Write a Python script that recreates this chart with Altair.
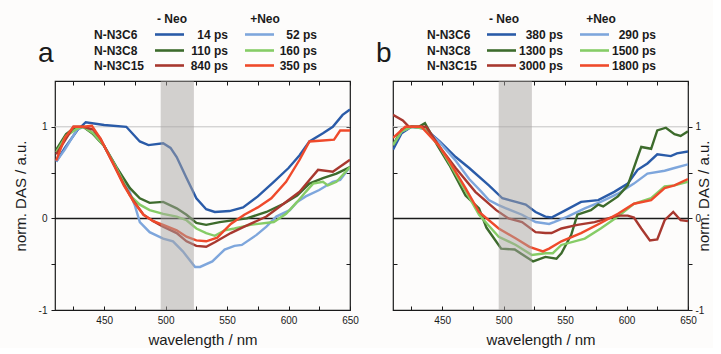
import altair as alt
import pandas as pd

# ---------------- data ----------------
series_keys = ["C6-", "C6+", "C8-", "C8+", "C15-", "C15+"]
series_colors = ["#2a5ba8", "#7ea6dc", "#3d6b2c", "#86cc66", "#a8382f", "#ef4a2b"]
row_labels = ["N-N3C6", "N-N3C8", "N-N3C15"]
times_a_minus = ["14 ps", "110 ps", "840 ps"]
times_a_plus = ["52 ps", "160 ps", "350 ps"]
times_b_minus = ["380 ps", "1300 ps", "3000 ps"]
times_b_plus = ["290 ps", "1500 ps", "1800 ps"]
header_minus = "- Neo"
header_plus = "+Neo"
x_title = "wavelength / nm"
y_title = "norm. DAS / a.u."
band_lo = [496]
band_hi = [523]
ref_one = [1]
ref_zero = [0]

# panel a
a_c6m_wl = [411, 418, 428, 435, 450, 468, 479, 486, 498, 504, 509, 517, 525, 533, 540, 552, 563, 575, 588, 600, 609, 617, 628, 636, 644, 650]
a_c6m_v = [0.62, 0.77, 0.96, 1.05, 1.02, 1.00, 0.84, 0.80, 0.82, 0.77, 0.67, 0.44, 0.22, 0.10, 0.07, 0.08, 0.12, 0.24, 0.40, 0.55, 0.69, 0.84, 0.93, 1.00, 1.13, 1.19]
a_c6p_wl = [411, 418, 428, 433, 441, 450, 460, 467, 471, 475, 479, 487, 498, 506, 514, 524, 528, 538, 548, 556, 562, 574, 582, 590, 601, 607, 614, 625, 636, 642, 650]
a_c6p_v = [0.62, 0.75, 0.97, 1.00, 0.93, 0.79, 0.56, 0.40, 0.28, 0.14, -0.04, -0.15, -0.22, -0.25, -0.36, -0.53, -0.53, -0.47, -0.34, -0.30, -0.29, -0.18, -0.09, 0.02, 0.09, 0.18, 0.24, 0.31, 0.40, 0.42, 0.56]
a_c8m_wl = [411, 419, 425, 433, 441, 450, 460, 471, 479, 487, 498, 509, 517, 525, 533, 544, 566, 582, 596, 607, 617, 628, 639, 650]
a_c8m_v = [0.75, 0.92, 0.98, 1.00, 0.92, 0.79, 0.56, 0.33, 0.22, 0.17, 0.18, 0.11, 0.04, -0.05, -0.07, -0.04, 0.00, 0.07, 0.16, 0.25, 0.38, 0.44, 0.49, 0.56]
a_c8p_wl = [411, 419, 428, 433, 441, 450, 460, 471, 479, 487, 498, 509, 517, 525, 533, 540, 548, 556, 569, 588, 598, 607, 614, 620, 628, 632, 639, 650]
a_c8p_v = [0.72, 0.90, 0.98, 1.00, 0.93, 0.79, 0.55, 0.25, 0.15, 0.09, 0.05, 0.02, -0.02, -0.11, -0.16, -0.19, -0.13, -0.11, -0.07, -0.04, 0.05, 0.18, 0.29, 0.38, 0.40, 0.36, 0.40, 0.56]
a_c15m_wl = [411, 418, 425, 433, 441, 447, 458, 466, 474, 482, 490, 498, 509, 517, 525, 533, 540, 553, 564, 582, 596, 609, 617, 624, 636, 650]
a_c15m_v = [0.70, 0.85, 1.00, 1.00, 0.97, 0.87, 0.58, 0.37, 0.19, 0.04, -0.03, -0.09, -0.16, -0.25, -0.30, -0.31, -0.26, -0.16, -0.09, 0.02, 0.16, 0.29, 0.42, 0.53, 0.51, 0.64]
a_c15p_wl = [411, 418, 425, 433, 440, 447, 458, 466, 474, 482, 490, 498, 509, 517, 525, 533, 542, 553, 564, 575, 586, 598, 609, 617, 628, 637, 642, 650]
a_c15p_v = [0.63, 0.88, 1.00, 1.00, 1.01, 0.87, 0.58, 0.36, 0.18, 0.04, -0.03, -0.07, -0.13, -0.20, -0.24, -0.25, -0.21, -0.06, 0.04, 0.12, 0.22, 0.40, 0.64, 0.84, 0.85, 0.86, 0.96, 0.96]

# panel b
b_c6m_wl = [410, 417, 425, 436, 448, 461, 472, 488, 499, 510, 518, 526, 534, 539, 549, 563, 577, 590, 601, 609, 617, 625, 636, 641, 650]
b_c6m_v = [0.75, 0.93, 1.00, 0.98, 0.84, 0.67, 0.55, 0.36, 0.22, 0.18, 0.15, 0.07, 0.02, 0.01, 0.08, 0.18, 0.20, 0.29, 0.38, 0.53, 0.60, 0.70, 0.68, 0.71, 0.73]
b_c6p_wl = [410, 417, 425, 436, 448, 461, 472, 482, 488, 495, 502, 515, 526, 537, 541, 552, 566, 579, 593, 606, 617, 631, 639, 650]
b_c6p_v = [0.80, 0.95, 1.00, 0.98, 0.83, 0.63, 0.43, 0.29, 0.20, 0.15, 0.11, 0.04, -0.04, -0.06, -0.04, 0.02, 0.11, 0.18, 0.27, 0.38, 0.49, 0.52, 0.55, 0.59]
b_c8m_wl = [410, 417, 425, 431, 436, 446, 456, 469, 480, 486, 498, 509, 524, 534, 543, 547, 555, 560, 571, 577, 581, 593, 601, 609, 612, 620, 625, 632, 639, 644, 650]
b_c8m_v = [0.80, 0.97, 1.00, 1.00, 1.04, 0.80, 0.58, 0.25, 0.11, -0.10, -0.33, -0.34, -0.47, -0.42, -0.44, -0.38, -0.18, 0.04, 0.09, 0.15, 0.13, 0.24, 0.36, 0.67, 0.78, 0.76, 0.96, 0.99, 0.92, 0.90, 0.95]
b_c8p_wl = [410, 417, 425, 436, 448, 456, 469, 480, 496, 510, 523, 534, 540, 547, 566, 579, 593, 606, 620, 631, 639, 650]
b_c8p_v = [0.80, 0.95, 1.00, 0.98, 0.78, 0.60, 0.30, 0.04, -0.20, -0.29, -0.40, -0.38, -0.38, -0.29, -0.22, -0.11, 0.02, 0.16, 0.22, 0.35, 0.36, 0.40]
b_c15m_wl = [410, 418, 423, 437, 448, 461, 477, 494, 504, 515, 526, 534, 539, 547, 560, 574, 585, 593, 601, 606, 612, 619, 625, 631, 638, 644, 650]
b_c15m_v = [1.13, 1.07, 1.00, 1.00, 0.78, 0.55, 0.29, 0.09, 0.00, -0.04, -0.15, -0.16, -0.16, -0.11, -0.07, -0.04, 0.00, 0.03, 0.03, 0.01, -0.11, -0.24, -0.23, -0.02, 0.07, -0.02, -0.03]
b_c15p_wl = [410, 420, 433, 447, 456, 469, 480, 496, 510, 521, 532, 537, 547, 563, 579, 593, 606, 620, 631, 639, 650]
b_c15p_v = [0.88, 1.00, 1.00, 0.80, 0.62, 0.33, 0.07, -0.11, -0.22, -0.31, -0.36, -0.33, -0.25, -0.16, -0.05, 0.05, 0.16, 0.20, 0.33, 0.36, 0.43]


def long_df(pairs):
    rows = []
    for key, (wls, vals) in zip(series_keys, pairs):
        for w, v in zip(wls, vals):
            rows.append({"s": key, "wl": w, "val": v})
    return pd.DataFrame(rows)


df_a = long_df([(a_c6m_wl, a_c6m_v), (a_c6p_wl, a_c6p_v), (a_c8m_wl, a_c8m_v),
                (a_c8p_wl, a_c8p_v), (a_c15m_wl, a_c15m_v), (a_c15p_wl, a_c15p_v)])
df_b = long_df([(b_c6m_wl, b_c6m_v), (b_c6p_wl, b_c6p_v), (b_c8m_wl, b_c8m_v),
                (b_c8p_wl, b_c8p_v), (b_c15m_wl, b_c15m_v), (b_c15p_wl, b_c15p_v)])

# ---------------- styling ----------------
FONT = "Liberation Sans"
INK = "#1a1a1a"
W, H = 295, 229
XD = [410, 650]
YD = [-1, 1.5]
xticks = [425, 450, 475, 500, 525, 550, 575, 600, 625, 650]
yticks = [-1, -0.5, 0, 0.5, 1]
ylab_expr = "datum.value == 1 ? '1' : datum.value == 0 ? '0' : datum.value == -1 ? '-1' : ''"
xlab_expr = "datum.value % 50 == 0 ? datum.label : ''"


def xs():
    return alt.Scale(domain=XD, nice=False, zero=False)


def ys():
    return alt.Scale(domain=YD, nice=False, zero=False)


def panel(df, letter, minus_txt, plus_txt, lay, left_labels):
    x_bottom = alt.Axis(orient="bottom", values=xticks, labelExpr=xlab_expr, title=x_title,
                        offset=-4, tickSize=4, domain=False, grid=False, labelFlush=False,
                        labelFontSize=10, labelPadding=5, titleFontSize=15,
                        titleFontWeight="normal", titlePadding=7)
    x_top = alt.Axis(orient="top", values=xticks, labels=False, title=None, offset=-4,
                     tickSize=4, domain=False, grid=False)
    if left_labels:
        y_main = alt.Axis(orient="left", values=yticks, labelExpr=ylab_expr, title=y_title,
                          tickSize=4, domain=False, grid=False, labelFontSize=10,
                          labelPadding=4, titleFontSize=15, titleFontWeight="normal",
                          titlePadding=10, labelFlush=False)
        y_other = alt.Axis(orient="right", values=yticks, labels=False, title=None,
                           offset=-4, tickSize=4, domain=False, grid=False)
    else:
        y_main = alt.Axis(orient="right", values=yticks, labelExpr=ylab_expr, title=y_title,
                          tickSize=4, domain=False, grid=False, labelFontSize=10,
                          labelPadding=3, titleFontSize=15, titleFontWeight="normal",
                          titlePadding=8, titleAngle=270, labelFlush=False)
        y_other = alt.Axis(orient="left", values=yticks, labels=False, title=None,
                           offset=-4, tickSize=4, domain=False, grid=False)

    color = alt.Color("s:N", scale=alt.Scale(domain=series_keys, range=series_colors), legend=None)

    r1 = alt.Chart(pd.DataFrame({"v": ref_one})).mark_rule(color="#c4c4c4", strokeWidth=1).encode(
        y=alt.Y("v:Q", scale=ys(), axis=None))
    r0 = alt.Chart(pd.DataFrame({"v": ref_zero})).mark_rule(color=INK, strokeWidth=1.5).encode(
        y=alt.Y("v:Q", scale=ys(), axis=None))
    lines = alt.Chart(df).mark_line(strokeWidth=2.4, clip=True).encode(
        x=alt.X("wl:Q", scale=xs(), axis=x_bottom),
        y=alt.Y("val:Q", scale=ys(), axis=y_main),
        color=color,
        detail="s:N",
    )
    ghost = alt.Chart(df).mark_point(opacity=0, size=1, clip=True).encode(
        x=alt.X("wl:Q", scale=xs(), axis=x_top),
        y=alt.Y("val:Q", scale=ys(), axis=y_other),
    )
    band = alt.Chart(pd.DataFrame({"lo": band_lo, "hi": band_hi})).mark_rect(
        color="#a8a4a2", opacity=0.5).encode(
        x=alt.X("lo:Q", scale=xs(), axis=None), x2="hi:Q",
        y=alt.value(0), y2=alt.value(H))

    layers = [r1, r0, lines, band, ghost]

    def txt(t, x, y, align="left", size=12, weight="bold"):
        return alt.Chart(pd.DataFrame({"t": [t]})).mark_text(
            align=align, baseline="alphabetic", font=FONT, fontSize=size,
            fontWeight=weight, color=INK).encode(
            text="t:N", x=alt.value(x), y=alt.value(y))

    def swatch(col, x1, x2, y):
        return alt.Chart(pd.DataFrame({"c": [col]})).mark_rule(
            strokeWidth=2.6, color=col).encode(
            x=alt.value(x1), x2=alt.value(x2), y=alt.value(y))

    layers.append(txt(letter, -17, -19, size=28, weight="normal"))
    layers.append(txt(header_minus, lay["hm"], -58, align="center"))
    layers.append(txt(header_plus, lay["hp"], -58, align="center"))
    row_base = [-42.5, -26.5, -11.5]
    for i in range(3):
        yb = row_base[i]
        layers.append(txt(row_labels[i], lay["lab"], yb))
        layers.append(swatch(series_colors[2 * i], lay["s1"], lay["s1"] + 29, yb - 4))
        layers.append(txt(minus_txt[i], lay["v1"], yb, align="right"))
        layers.append(swatch(series_colors[2 * i + 1], lay["s2"], lay["s2"] + 29, yb - 4))
        layers.append(txt(plus_txt[i], lay["v2"], yb, align="right"))

    return alt.layer(*layers).resolve_axis(x="independent", y="independent").properties(
        width=W, height=H)


lay_a = {"lab": 39, "s1": 100, "v1": 173, "s2": 190, "v2": 262, "hm": 117, "hp": 210}
lay_b = {"lab": 34, "s1": 94, "v1": 170, "s2": 187, "v2": 263, "hm": 111, "hp": 208}

pa = panel(df_a, "a", times_a_minus, times_a_plus, lay_a, True)
pb = panel(df_b, "b", times_b_minus, times_b_plus, lay_b, False)

chart = alt.hconcat(pa, pb, spacing=16).properties(
    background="#fdfcfb",
    padding={"left": 12, "top": 12, "right": 0, "bottom": 0},
).configure_view(stroke=INK, strokeWidth=1.2).configure_axis(
    labelFont=FONT, titleFont=FONT, labelColor=INK, titleColor=INK, tickColor=INK,
    tickWidth=1)

chart.save("out.html", embed_options={"renderer": "svg", "actions": False})
